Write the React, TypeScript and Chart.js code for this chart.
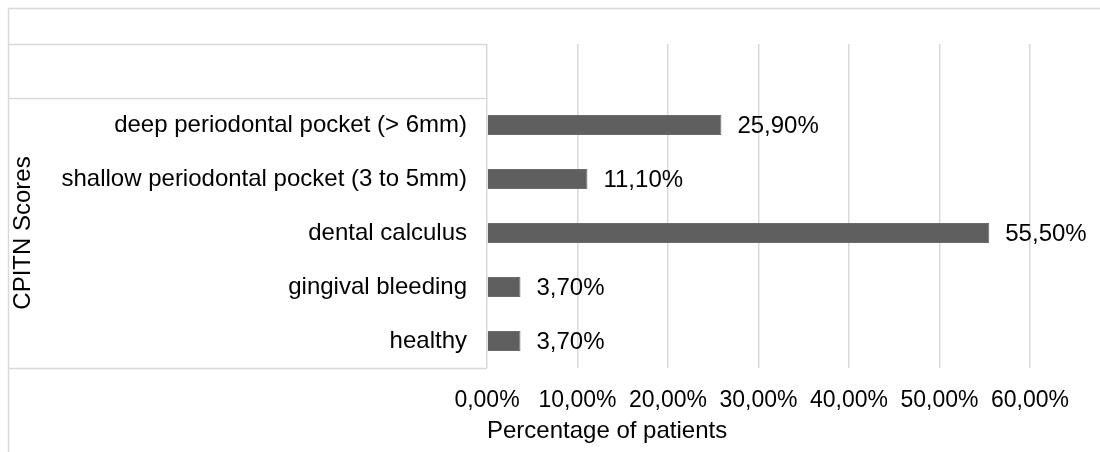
import React, { useEffect, useRef } from "react";
import { Chart, registerables } from "chart.js";

Chart.register(...registerables);

const categories = [
  "",
  "deep periodontal pocket (> 6mm)",
  "shallow periodontal pocket (3 to 5mm)",
  "dental calculus",
  "gingival bleeding",
  "healthy",
];
const values: (number | null)[] = [null, 25.9, 11.1, 55.5, 3.7, 3.7];
const xTicks = [0, 10, 20, 30, 40, 50, 60];
const xTitle = "Percentage of patients";
const yTitle = "CPITN Scores";

const FONT = "'Liberation Sans', Arial, Helvetica, sans-serif";
const LINE = "#d9d9d9";
const fmt = (v: number) => v.toFixed(2).replace(".", ",") + "%";

const decor = {
  id: "decor",
  beforeDraw(chart: any) {
    const { ctx, chartArea: ca, scales } = chart;
    const y = scales.y;
    ctx.save();
    ctx.strokeStyle = LINE;
    ctx.lineWidth = 1.5;
    ctx.beginPath();
    ctx.moveTo(8.5, chart.height);
    ctx.lineTo(8.5, 8.5);
    ctx.lineTo(chart.width, 8.5);
    const b = (y.getPixelForValue(0) + y.getPixelForValue(1)) / 2;
    [ca.top, b, ca.bottom].forEach((yy: number) => {
      const r = Math.round(yy) + 0.5;
      ctx.moveTo(8.5, r);
      ctx.lineTo(ca.left, r);
    });
    ctx.stroke();
    ctx.restore();
  },
  afterDatasetsDraw(chart: any) {
    const { ctx, chartArea: ca, scales } = chart;
    const meta = chart.getDatasetMeta(0);
    ctx.save();
    ctx.fillStyle = "#000";
    ctx.font = `24px ${FONT}`;
    ctx.textAlign = "left";
    ctx.textBaseline = "middle";
    meta.data.forEach((bar: any, i: number) => {
      const v = values[i];
      if (v == null) return;
      ctx.fillText(fmt(v), bar.x + 16, bar.y + 1);
    });
    // y axis title
    const y = scales.y;
    const b = (y.getPixelForValue(0) + y.getPixelForValue(1)) / 2;
    const cy = (b + ca.bottom) / 2;
    ctx.translate(23, cy);
    ctx.rotate(-Math.PI / 2);
    ctx.textAlign = "center";
    ctx.fillText(yTitle, 0, 0);
    ctx.restore();
  },
};

export default function App() {
  const ref = useRef<HTMLCanvasElement | null>(null);
  useEffect(() => {
    if (!ref.current) return;
    const chart = new Chart(ref.current, {
      type: "bar",
      data: {
        labels: categories,
        datasets: [
          {
            data: values,
            backgroundColor: "#5f5f5f",
            borderColor: "#6b6b6b",
            borderWidth: 1,
            barPercentage: 0.37,
            categoryPercentage: 1,
          },
        ],
      },
      options: {
        indexAxis: "y",
        responsive: false,
        animation: false,
        layout: { padding: { top: 44, right: 70, left: 0, bottom: 0 } },
        plugins: {
          legend: { display: false },
          tooltip: { enabled: false },
        },
        scales: {
          x: {
            type: "linear",
            min: 0,
            max: 60,
            afterBuildTicks: (s: any) => {
              s.ticks = xTicks.map((v) => ({ value: v }));
            },
            afterFit: (s: any) => {
              s.height = 84;
            },
            grid: { color: LINE, lineWidth: 1.5, drawTicks: false },
            border: { display: false },
            ticks: {
              padding: 19,
              color: "#000",
              font: { family: FONT, size: 23 },
              maxRotation: 0,
              autoSkip: false,
              callback: (v: any) => fmt(Number(v)),
            },
            title: {
              display: true,
              text: xTitle,
              align: "start",
              color: "#000",
              font: { family: FONT, size: 24 },
              padding: { top: 0, bottom: 6 },
            },
          },
          y: {
            type: "category",
            afterFit: (s: any) => {
              s.width = 487;
            },
            grid: { display: false, drawTicks: false },
            border: { display: false },
            ticks: {
              padding: 20,
              color: "#000",
              font: { family: FONT, size: 24 },
              autoSkip: false,
            },
          },
        },
      },
      plugins: [decor],
    });
    return () => chart.destroy();
  }, []);
  return (
    <div style={{ position: "fixed", left: 0, top: 0, width: 1100, height: 452, background: "#fff" }}>
      <canvas ref={ref} width={1100} height={452} style={{ width: 1100, height: 452, display: "block" }} />
    </div>
  );
}
